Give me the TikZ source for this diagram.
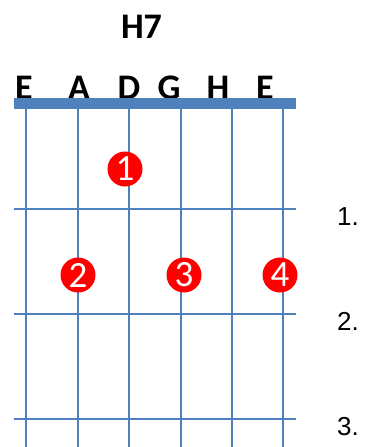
\documentclass[tikz,border=0pt]{standalone}
\usepackage{fontspec}
\setmainfont{Liberation Sans}
\newfontfamily\chordfont{Carlito}
\usepackage{xcolor}
\usepackage{tikz}
\usetikzlibrary{positioning, calc}

\definecolor{fretblue}{RGB}{79,129,189}
\definecolor{dotred}{RGB}{255,0,0}

\begin{document}
\begin{tikzpicture}[
  x=1pt, y=-1pt,
  fretline/.style={draw=fretblue, line width=1.6pt},
  nutbar/.style={fill=fretblue, draw=none},
  strlab/.style={anchor=base, inner sep=0pt, font=\chordfont\bfseries\fontsize{36}{36}\selectfont},
  finger/.style={circle, fill=dotred, minimum size=35pt, inner sep=0pt, text=white, font=\chordfont\fontsize{37}{37}\selectfont},
  fretno/.style={anchor=base west, inner sep=0pt, font=\fontsize{26}{26}\selectfont}
]
\useasboundingbox (0,0) rectangle (365,447);

% Titel und Saiten
\node[strlab] (title) at (141.5,38.3) {H7};
\foreach \name/\lx/\sx [count=\i] in {E/24/26, A/79/78, D/129/129, G/169/181, H/218/232, E/265/283} {
  \node[strlab] (lab\i) at (\lx,99) {\name};
  \coordinate (top\i) at (\sx,109);
  \coordinate (bot\i) at (\sx,447);
  \draw[fretline] (top\i) -- (bot\i);
}

% Sattel und Bünde
\fill[nutbar] (13.5,97.7) rectangle (296,109.3);
\foreach \fy [count=\j] in {208.7, 314, 418.7} {
  \coordinate (fl\j) at (13.5,\fy);
  \coordinate (fr\j) at (296,\fy);
  \draw[fretline] (fl\j) -- (fr\j);
}

% Bundnummern
\node[fretno] (n1) at (337,225.7) {1.};
\node[fretno] (n2) at (337,330.5) {2.};
\node[fretno] (n3) at (337,435.2) {3.};

% Finger
\node[finger] (f1) at (125,169) {1};
\node[finger] (f2) at (78,275) {2};
\node[finger] (f3) at (184,275) {3};
\node[finger] (f4) at (280,275) {4};
\end{tikzpicture}
\end{document}
